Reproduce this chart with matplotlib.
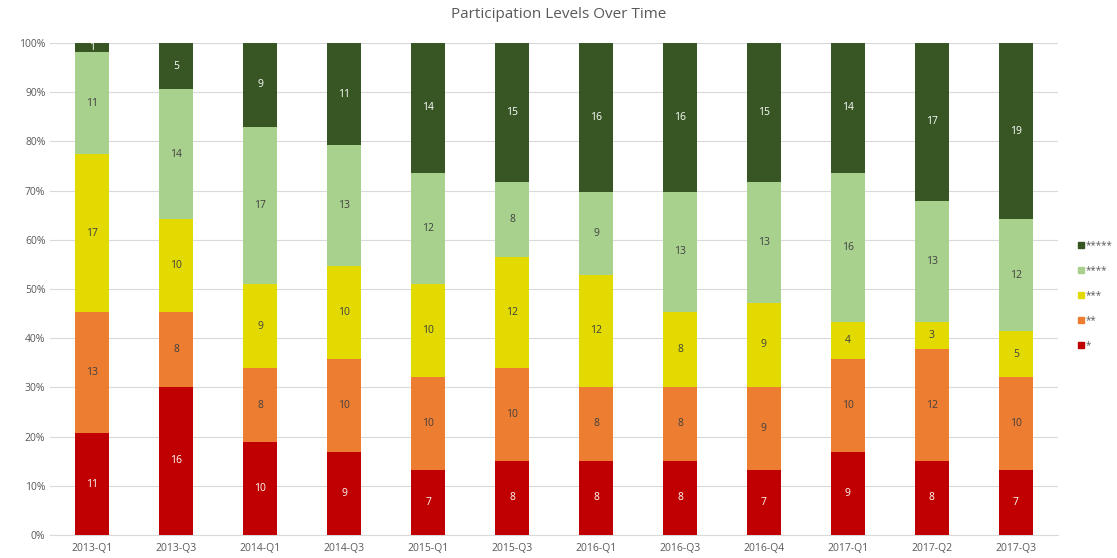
import matplotlib
matplotlib.use("Agg")
import matplotlib.pyplot as plt
import numpy as np
from matplotlib.ticker import PercentFormatter
from matplotlib.lines import Line2D

plt.rcParams['font.family'] = ['Open Sans', 'DejaVu Sans']

categories = ["2013-Q1", "2013-Q3", "2014-Q1", "2014-Q3", "2015-Q1", "2015-Q3",
              "2016-Q1", "2016-Q3", "2016-Q4", "2017-Q1", "2017-Q2", "2017-Q3"]
series_names = ["*", "**", "***", "****", "*****"]
s1 = [11, 16, 10, 9, 7, 8, 8, 8, 7, 9, 8, 7]
s2 = [13, 8, 8, 10, 10, 10, 8, 8, 9, 10, 12, 10]
s3 = [17, 10, 9, 10, 10, 12, 12, 8, 9, 4, 3, 5]
s4 = [11, 14, 17, 13, 12, 8, 9, 13, 13, 16, 13, 12]
s5 = [1, 5, 9, 11, 14, 15, 16, 16, 15, 14, 17, 19]
colors = ["#C00000", "#ED7D31", "#E2DA00", "#A9D18E", "#375623"]
label_colors = ["white", "#404040", "#404040", "#404040", "white"]

series = [s1, s2, s3, s4, s5]
data = np.array(series, dtype=float)
totals = data.sum(axis=0)
pct = data / totals * 100

fig = plt.figure(figsize=(11.17, 5.58), dpi=100)
ax = fig.add_axes([0.045, 0.041, 0.902, 0.882])
x = np.arange(len(categories))
bottom = np.zeros(len(categories))
for i, name in enumerate(series_names):
    ax.bar(x, pct[i], 0.4, bottom=bottom, color=colors[i], label=name, zorder=3)
    for j in range(len(categories)):
        ax.text(x[j], bottom[j] + pct[i][j] / 2, str(series[i][j]), ha='center', va='center',
                fontsize=7.5, color=label_colors[i], zorder=4)
    bottom += pct[i]

ax.set_xlim(-0.5, len(categories) - 0.5)
ax.set_ylim(0, 100)
ax.set_yticks(np.arange(0, 101, 10))
ax.yaxis.set_major_formatter(PercentFormatter(decimals=0))
ax.set_xticks(x)
ax.set_xticklabels(categories)
ax.tick_params(axis='both', length=0, labelsize=7.5, colors='#595959')
ax.tick_params(axis='x', pad=6)
ax.grid(axis='y', color='#D9D9D9', linewidth=0.8, zorder=0)
for sp in ['top', 'right', 'left']:
    ax.spines[sp].set_visible(False)
ax.spines['bottom'].set_color('#D9D9D9')

fig.suptitle("Participation Levels Over Time", y=0.988, fontsize=11, color='#595959')

handles = [Line2D([0], [0], marker='s', linestyle='', markersize=5,
                  markerfacecolor=colors[i], markeredgecolor=colors[i]) for i in range(5)][::-1]
labels = series_names[::-1]
fig.legend(handles, labels, loc='center left', bbox_to_anchor=(0.964, 0.47), frameon=False,
           fontsize=7, labelspacing=1.45, handletextpad=0.1, handlelength=0.8,
           borderaxespad=0, borderpad=0, labelcolor='#595959')

fig.savefig("out.png", dpi=100)
